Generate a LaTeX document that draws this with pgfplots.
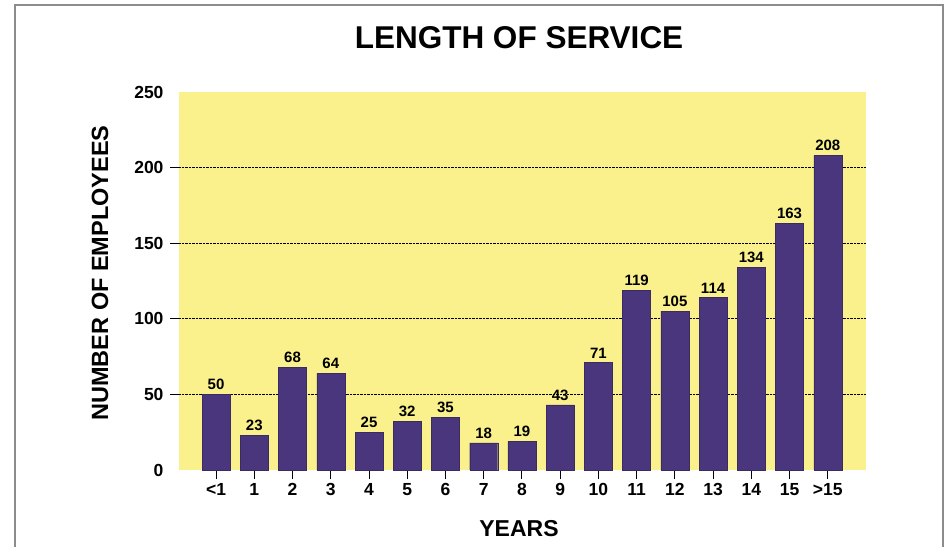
\documentclass[border=0pt]{standalone}
\usepackage{pgfplots}
\pgfplotsset{compat=1.18}
\usepackage{fontspec}
\setmainfont{Liberation Sans}
\definecolor{bgyellow}{RGB}{250,241,140}
\definecolor{barpurple}{RGB}{74,54,124}
\pgfplotstableread{
x y
0 50
1 23
2 68
3 64
4 25
5 32
6 35
7 18
8 19
9 43
10 71
11 119
12 105
13 114
14 134
15 163
16 208
}\datatable
\begin{document}
\begin{tikzpicture}[x=1pt,y=1pt]
\path[use as bounding box] (0,0) rectangle (952,546);
\fill[white] (0,0) rectangle (952,546);
\draw[black!45, line width=1.2pt] (15,-10) -- (15,541) -- (943,541) -- (943,-10);
\node[font=\bfseries\fontsize{31.5}{32}\selectfont] at (519,508) {LENGTH OF SERVICE};
\node[font=\bfseries\fontsize{23}{23}\selectfont] at (519,17) {YEARS};
\node[font=\bfseries\fontsize{23.5}{24}\selectfont, rotate=90] at (100,273) {NUMBER OF EMPLOYEES};
\begin{axis}[
  at={(179pt,76pt)}, anchor=south west,
  scale only axis, width=687pt, height=378pt,
  xmin=-0.97, xmax=17.0, ymin=0, ymax=250,
  axis background/.style={fill=bgyellow},
  axis line style={draw=none},
  xtick={0,...,16},
  xticklabels={<1,1,2,3,4,5,6,7,8,9,10,11,12,13,14,15,>15},
  ytick={50,100,150,200},
  extra y ticks={0,250},
  extra y tick style={grid=none, tick style={draw=none}},
  xtick pos=bottom, ytick pos=left,
  tick align=outside,
  major tick length=9pt,
  tick style={black, line width=0.9pt},
  ymajorgrids,
  grid style={black, densely dotted, line width=0.8pt},
  /pgf/number format/assume math mode=true,
  ticklabel style={font=\bfseries\fontsize{17.5}{18}\selectfont},
  xticklabel style={yshift=-1pt},
  yticklabel style={xshift=-3pt},
  nodes near coords,
  nodes near coords style={font=\bfseries\fontsize{15}{15}\selectfont, yshift=1pt},
]
\addplot[ybar, bar width=28pt, fill=barpurple, draw=barpurple!80!black] table[x=x,y=y] {\datatable};
\end{axis}
\end{tikzpicture}
\end{document}
